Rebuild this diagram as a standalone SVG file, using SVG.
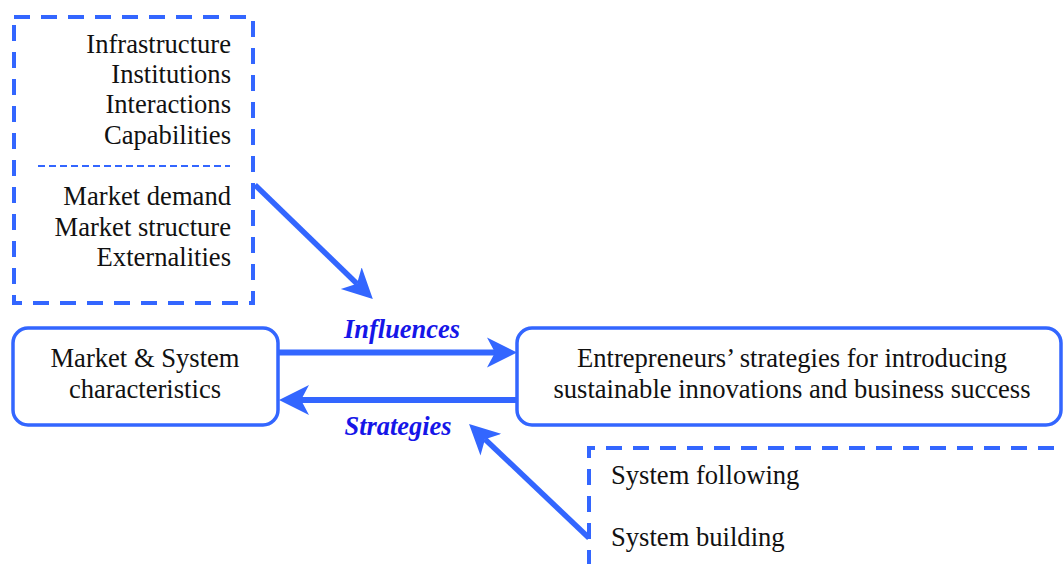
<svg xmlns="http://www.w3.org/2000/svg" width="1063" height="564" viewBox="0 0 1063 564">
  <defs>
    <style>
      .txt { font-family: "Liberation Serif", "Times New Roman", serif; font-size: 26.6px; fill: #111; }
      .lbl { font-family: "Liberation Serif", "Times New Roman", serif; font-size: 26.4px; font-weight: bold; font-style: italic; fill: #1616e8; }
      .box { fill: #fff; stroke: #3366ff; stroke-width: 3.5; }
      .dash { fill: none; stroke: #3366ff; stroke-width: 4; stroke-dasharray: 16 11; }
      .thin { fill: none; stroke: #3366ff; stroke-width: 2; stroke-dasharray: 7 4; }
      .edge { fill: none; stroke: #3366ff; }
    </style>
    <marker id="head" markerUnits="userSpaceOnUse" markerWidth="32" markerHeight="32" viewBox="0 -16 32 32" refX="8" refY="0" orient="auto">
      <path d="M0,-15 L30,0 L0,15 L8,0 Z" fill="#3366ff"/>
    </marker>
  </defs>
  <rect width="1063" height="564" fill="#fff"/>

  <!-- system and market factors -->
  <g id="factors">
    <rect class="dash" x="14" y="17" width="239" height="286"/>
    <line class="thin" x1="38" y1="166" x2="230" y2="166"/>
    <g class="txt" text-anchor="end">
      <text x="231" y="53">Infrastructure</text>
      <text x="231" y="83">Institutions</text>
      <text x="231" y="113">Interactions</text>
      <text x="231" y="144">Capabilities</text>
      <text x="231" y="205">Market demand</text>
      <text x="231" y="236">Market structure</text>
      <text x="231" y="266">Externalities</text>
    </g>
  </g>

  <!-- market & system node -->
  <g id="market-system">
    <rect class="box" x="13" y="328" width="265" height="97" rx="15"/>
    <g class="txt" text-anchor="middle">
      <text x="145" y="367">Market &amp; System</text>
      <text x="145" y="398">characteristics</text>
    </g>
  </g>

  <!-- entrepreneurs node -->
  <g id="entrepreneurs">
    <rect class="box" x="517" y="328" width="544" height="97" rx="15"/>
    <g class="txt" text-anchor="middle">
      <text x="792" y="367">Entrepreneurs’ strategies for introducing</text>
      <text x="792" y="398">sustainable innovations and business success</text>
    </g>
  </g>

  <!-- strategy types -->
  <g id="strategy-types">
    <path class="dash" d="M589,566 V448 H1066"/>
    <g class="txt">
      <text x="611" y="484">System following</text>
      <text x="611" y="546">System building</text>
    </g>
  </g>

  <!-- connectors -->
  <g id="connectors">
    <line class="edge" stroke-width="5.5" x1="255" y1="185" x2="357" y2="283.7" marker-end="url(#head)"/>
    <line class="edge" stroke-width="6" x1="279" y1="352.5" x2="495" y2="352.5" marker-end="url(#head)"/>
    <line class="edge" stroke-width="6" x1="517" y1="400" x2="301" y2="400" marker-end="url(#head)"/>
    <line class="edge" stroke-width="5.5" x1="589" y1="538" x2="485" y2="439.2" marker-end="url(#head)"/>
    <text class="lbl" x="402" y="338" text-anchor="middle">Influences</text>
    <text class="lbl" x="398" y="435" text-anchor="middle">Strategies</text>
  </g>
</svg>
